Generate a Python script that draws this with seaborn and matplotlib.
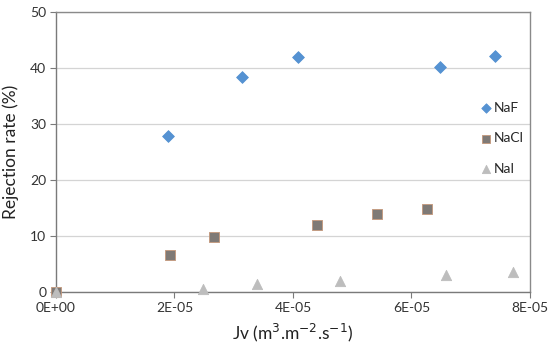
import numpy as np
import pandas as pd
import matplotlib
matplotlib.use("Agg")
import matplotlib.pyplot as plt
import seaborn as sns

jv_naf = [0.0000189, 0.0000314, 0.0000408, 0.0000648, 0.0000741]
rej_naf = [27.9, 38.4, 42.0, 40.1, 42.2]

jv_nacl = [0.0, 0.0000192, 0.0000267, 0.0000440, 0.0000541, 0.0000627]
rej_nacl = [0.0, 6.6, 9.9, 12.0, 14.0, 14.8]

jv_nai = [0.0, 0.0000248, 0.0000340, 0.0000479, 0.0000658, 0.0000772]
rej_nai = [0.0, 0.5, 1.4, 2.0, 3.0, 3.6]

x_ticks = [0, 2e-5, 4e-5, 6e-5, 8e-5]
x_labels = ["0E+00", "2E-05", "4E-05", "6E-05", "8E-05"]

sns.set_style("white")
plt.rcParams["font.family"] = ["Lato", "DejaVu Sans"]

fig = plt.figure(figsize=(5.5, 3.49), dpi=100)
ax = fig.add_axes([0.1018, 0.1633, 0.8618, 0.8023])

series = [
    ("NaF", jv_naf, rej_naf, "D", "#5592d2", "#5592d2", 36),
    ("NaCl", jv_nacl, rej_nacl, "s", "#7f7a76", "#c4977a", 42),
    ("NaI", jv_nai, rej_nai, "^", "#bdbdbd", "#bdbdbd", 55),
]
for name, xs, ys, mk, fc, ec, sz in series:
    df = pd.DataFrame({"Jv": xs, "Rejection": ys})
    sns.scatterplot(data=df, x="Jv", y="Rejection", marker=mk, color=fc,
                    edgecolor=ec, linewidth=0.6, s=sz, ax=ax, label=name,
                    zorder=3, clip_on=False)

ax.set_xlim(0, 8e-5)
ax.set_ylim(0, 50)
ax.set_xticks(x_ticks)
ax.set_xticklabels(x_labels)
ax.set_yticks([0, 10, 20, 30, 40, 50])
ax.yaxis.grid(True, color="#d4d4d4", linewidth=0.9)
ax.set_axisbelow(True)
for sp in ax.spines.values():
    sp.set_color("#8a8a8a")
    sp.set_linewidth(1.0)
ax.spines["left"].set_color("#7a7a7a")
ax.spines["bottom"].set_color("#7a7a7a")
ax.tick_params(axis="both", labelsize=10, colors="#333333", length=4,
               direction="out", bottom=True, left=True, pad=3)
ax.tick_params(axis="both", color="#7a7a7a")

ax.set_xlabel("Jv (m$^3$.m$^{-2}$.s$^{-1}$)", fontsize=12.5, color="#222222",
              labelpad=6)
ax.set_ylabel("Rejection rate (%)", fontsize=12.5, color="#222222", labelpad=8)

leg = ax.legend(loc="upper left", bbox_to_anchor=(0.88, 0.70), frameon=False,
                fontsize=10, labelspacing=1.35, handletextpad=0.1,
                handlelength=1.0, borderaxespad=0, markerscale=0.8)

fig.savefig("out.png", dpi=100)
